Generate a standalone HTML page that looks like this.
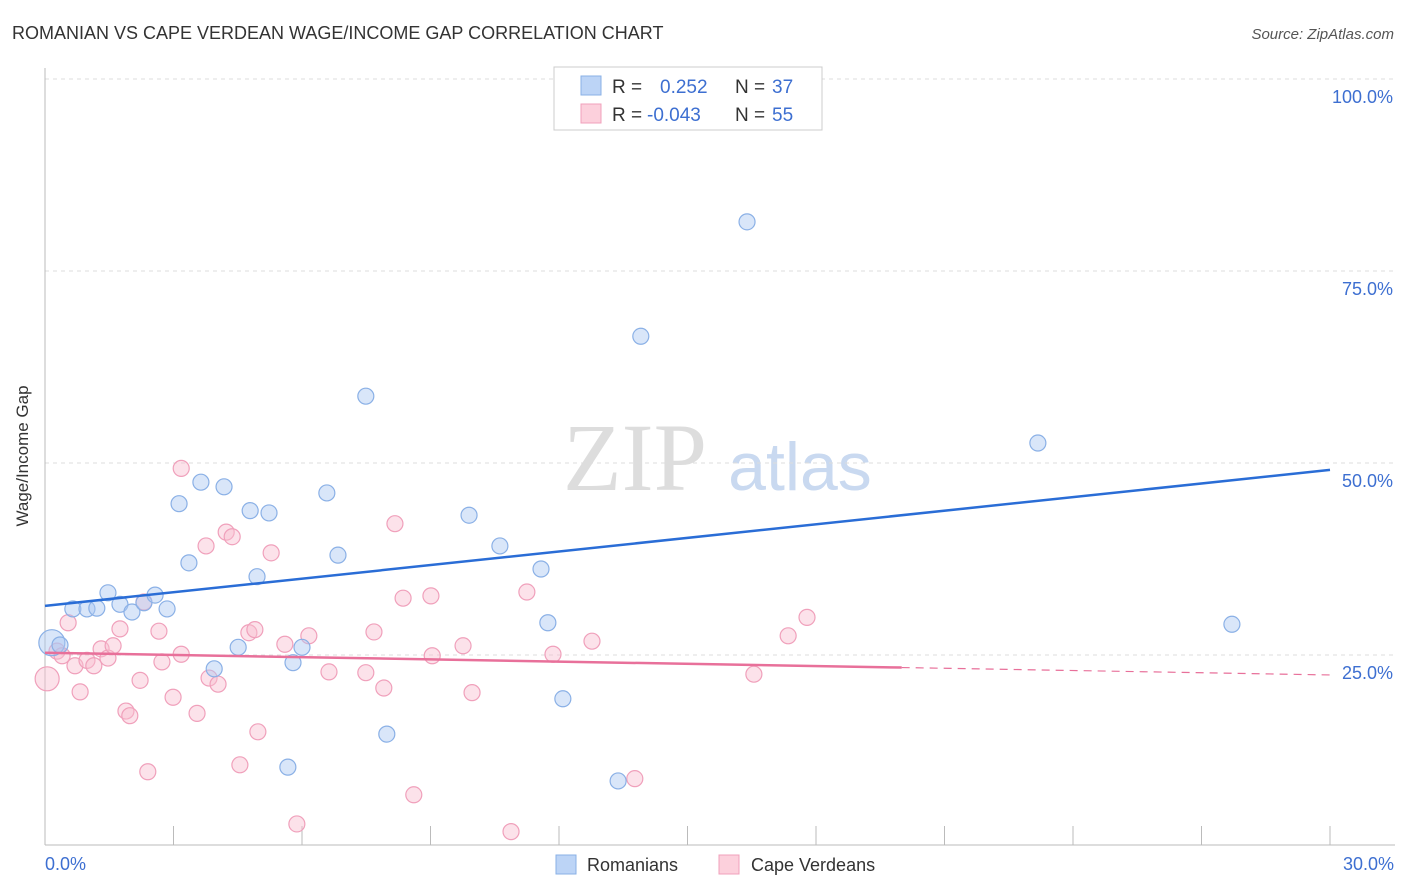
<!DOCTYPE html>
<html><head><meta charset="utf-8"><style>
body{margin:0;background:#fff;font-family:"Liberation Sans",sans-serif;}
svg{display:block}
</style></head><body>
<svg width="1406" height="892" viewBox="0 0 1406 892">
<text x="12" y="39" font-size="18" fill="#333">ROMANIAN VS CAPE VERDEAN WAGE/INCOME GAP CORRELATION CHART</text>
<text x="1394" y="39" font-size="15" fill="#555" font-style="italic" text-anchor="end">Source: ZipAtlas.com</text>
<g>
<text x="635" y="490" font-size="96" font-family="Liberation Serif,serif" fill="#ddd" text-anchor="middle">ZIP</text>
<text x="800" y="490" font-size="68" fill="#c9d9f0" text-anchor="middle">atlas</text>
</g>
<g id="grid"></g>
<line x1="45" y1="68" x2="45" y2="845" stroke="#bbb"/>
<line x1="45" y1="845" x2="1395" y2="845" stroke="#bbb"/>
<g id="xt"></g>
<text x="28" y="456" font-size="17" fill="#333" text-anchor="middle" transform="rotate(-90 28 456)">Wage/Income Gap</text>
<text x="45" y="870" font-size="18" fill="#3d6fd1">0.0%</text>
<text x="1394" y="870" font-size="18" fill="#3d6fd1" text-anchor="end">30.0%</text>
<g id="pts"></g>
<g id="trend"></g>
<g>
<rect x="554" y="67" width="268" height="63" fill="#fff" stroke="#ccc"/>
<rect x="581" y="76" width="20" height="19" fill="#bcd4f6" stroke="#8ab0e6"/>
<rect x="581" y="104" width="20" height="19" fill="#fcd0dc" stroke="#f0a0bb"/>
<text x="612" y="93" font-size="19" fill="#333">R = </text><text x="660" y="93" font-size="19" fill="#3d6fd1">0.252</text>
<text x="735" y="93" font-size="19" fill="#333">N = </text><text x="772" y="93" font-size="19" fill="#3d6fd1">37</text>
<text x="612" y="121" font-size="19" fill="#333">R = </text><text x="647" y="121" font-size="19" fill="#3d6fd1">-0.043</text>
<text x="735" y="121" font-size="19" fill="#333">N = </text><text x="772" y="121" font-size="19" fill="#3d6fd1">55</text>
</g>
<g>
<rect x="556" y="855" width="20" height="19" fill="#bcd4f6" stroke="#8ab0e6"/>
<text x="587" y="871" font-size="18" fill="#333">Romanians</text>
<rect x="719" y="855" width="20" height="19" fill="#fcd0dc" stroke="#f0a0bb"/>
<text x="751" y="871" font-size="18" fill="#333">Cape Verdeans</text>
</g>
</svg>
<script>
const yTicks=[100,75,50,25];
const yTickLabels=["100.0%","75.0%","50.0%","25.0%"];
const xTicks=[0,3,6,9,12,15,18,21,24,27,30];
const blueX=[0.16,0.35,0.65,0.98,1.21,1.47,1.75,2.03,2.31,2.57,2.85,3.13,3.36,3.64,3.95,4.18,4.51,4.79,4.95,5.23,5.67,5.79,6.00,6.58,6.84,7.49,7.98,9.90,10.62,11.58,11.74,12.09,13.38,13.91,16.39,23.18,27.71];
const blueY=[26.6,26.3,31.0,31.0,31.1,33.1,31.6,30.6,31.8,32.8,31.0,44.7,37.0,47.5,23.2,46.9,26.0,43.8,35.2,43.5,10.4,24.0,26.0,46.1,38.0,58.7,14.7,43.2,39.2,36.2,29.2,19.3,8.6,66.5,81.4,52.6,29.0];
const pinkX=[0.05,0.28,0.40,0.54,0.70,0.82,0.98,1.14,1.31,1.47,1.59,1.75,1.89,1.98,2.22,2.40,2.31,2.66,2.73,2.99,3.18,3.18,3.55,3.76,3.83,4.04,4.23,4.37,4.55,4.76,4.90,4.97,5.28,5.60,5.88,6.16,6.63,7.49,7.68,7.91,8.17,8.36,8.61,9.01,9.04,9.76,9.97,10.88,11.25,11.86,12.77,13.77,16.55,17.35,17.79];
const pinkY=[21.9,25.5,24.9,29.2,23.6,20.2,24.3,23.6,25.8,24.6,26.2,28.4,17.7,17.1,21.7,9.8,31.9,28.1,24.1,19.5,49.3,25.1,17.4,39.2,22.0,21.2,41.0,40.4,10.7,27.9,28.3,15.0,38.3,26.4,3.0,27.5,22.8,22.7,28.0,20.7,42.1,32.4,6.8,32.7,24.9,26.2,20.1,2.0,33.2,25.1,26.8,8.9,22.5,27.5,29.9];
const blueTrend=[31.4,49.1];
const pinkTrend=[25.3,22.4];
const pinkSolidEnd=20;
const NS="http://www.w3.org/2000/svg";
const X=v=>45+v/30*1285, Y=v=>847-v/100*768;
function mk(t,a,p){const e=document.createElementNS(NS,t);for(const k in a)e.setAttribute(k,a[k]);p.appendChild(e);return e;}
const grid=document.getElementById('grid');
yTicks.forEach((v,i)=>{
 const l=mk('line',{x1:45,x2:1395,y1:Y(v),y2:Y(v),stroke:'#ddd','stroke-dasharray':'4,4'},grid);
 
 
 const t=mk('text',{x:1393,y:Y(v)+24,'font-size':18,fill:'#3d6fd1','text-anchor':'end'},grid);
 t.textContent=yTickLabels[i];
 
 
});
const xt=document.getElementById('xt');
xTicks.forEach(v=>{
 const l=mk('line',{x1:X(v),x2:X(v),y1:826,y2:845,stroke:'#bbb'},xt);
 
 
});
const pts=document.getElementById('pts');
pinkX.forEach((x,i)=>{
 const c=mk('circle',{cx:X(x),cy:Y(pinkY[i]),r:i==0?12:8,fill:'rgba(248,190,208,0.45)',stroke:'#f0a0bb','stroke-width':1.2},pts);
 
 
});
blueX.forEach((x,i)=>{
 const c=mk('circle',{cx:X(x),cy:Y(blueY[i]),r:i==0?13:8,fill:'rgba(170,200,242,0.45)',stroke:'#8ab0e6','stroke-width':1.2},pts);
 
 
});
const tr=document.getElementById('trend');
const b=mk('line',{x1:X(0),y1:Y(blueTrend[0]),x2:X(30),y2:Y(blueTrend[1]),stroke:'#2a6dd6','stroke-width':2.5},tr);


const pm=pinkTrend[0]+(pinkTrend[1]-pinkTrend[0])*pinkSolidEnd/30;
const p1=mk('line',{x1:X(0),y1:Y(pinkTrend[0]),x2:X(pinkSolidEnd),y2:Y(pm),stroke:'#e8709a','stroke-width':2.5},tr);


const p2=mk('line',{x1:X(pinkSolidEnd),y1:Y(pm),x2:X(30),y2:Y(pinkTrend[1]),stroke:'#e8709a','stroke-width':1.2,'stroke-dasharray':'8,6'},tr);


</script>
</body></html>
